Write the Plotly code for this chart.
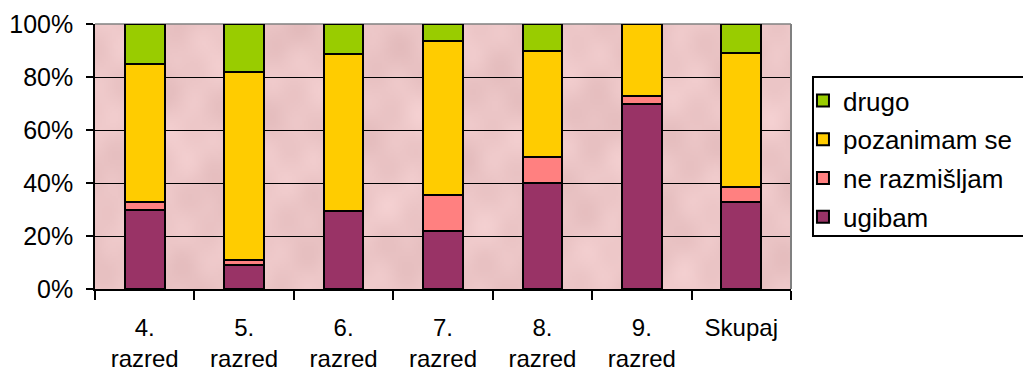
import base64
import struct
import zlib

import numpy as np
import plotly.graph_objects as go

categories = ["4.<br>razred", "5.<br>razred", "6.<br>razred", "7.<br>razred",
              "8.<br>razred", "9.<br>razred", "Skupaj"]

ugibam = [30, 9, 29.5, 22, 40, 70, 33]
ne_razmisljam = [3, 2, 0, 13.5, 10, 3, 5.5]
pozanimam_se = [52, 71, 59, 58, 40, 27, 50.5]
drugo = [15, 18, 11.5, 6.5, 10, 0, 11]

# (name, values, colour, legend rank)
series = [
    ("ugibam", ugibam, "#993366", 4),
    ("ne razmišljam", ne_razmisljam, "#FF8080", 3),
    ("pozanimam se", pozanimam_se, "#FFCC00", 2),
    ("drugo", drugo, "#99CC00", 1),
]

font_family = "Liberation Sans, Arial, sans-serif"


def marble_png(w=348, h=133):
    """Soft pink marble fill built from overlapping sine waves."""
    yy, xx = np.mgrid[0:h, 0:w].astype(float)
    v = (np.sin(xx * 0.11 + yy * 0.05) + np.sin(xx * 0.037 - yy * 0.13 + 1.3)
         + 0.7 * np.sin((xx + yy) * 0.21 + 2.1) + 0.6 * np.sin(xx * 0.29 - yy * 0.17)
         + 0.5 * np.sin(np.hypot(xx - 120, yy - 60) * 0.18))
    v = v / np.abs(v).max()
    base = np.array([236, 198, 199], float)
    shade = np.array([9, 11, 11], float)
    img = np.clip(base[None, None, :] + v[..., None] * shade, 0, 255).astype(np.uint8)
    raw = b"".join(b"\x00" + img[r].tobytes() for r in range(h))

    def chunk(tag, data):
        c = tag + data
        return struct.pack(">I", len(data)) + c + struct.pack(">I", zlib.crc32(c) & 0xFFFFFFFF)

    png = (b"\x89PNG\r\n\x1a\n"
           + chunk(b"IHDR", struct.pack(">IIBBBBB", w, h, 8, 2, 0, 0, 0))
           + chunk(b"IDAT", zlib.compress(raw, 9))
           + chunk(b"IEND", b""))
    return "data:image/png;base64," + base64.b64encode(png).decode()


fig = go.Figure()
for name, vals, color, rank in series:
    fig.add_trace(go.Bar(
        x=categories, y=vals, name=name, legendgroup=name, legendrank=rank,
        marker=dict(color=color, line=dict(color="black", width=2)),
    ))

fig.update_layout(
    barmode="stack",
    bargap=0.6,
    width=1023, height=371,
    margin=dict(l=95, r=232, t=24, b=82, autoexpand=False),
    paper_bgcolor="white",
    plot_bgcolor="#ECC5C6",
    font=dict(family=font_family, size=25, color="black"),
    showlegend=True,
    legend=dict(
        x=1.0172, y=0.80, xanchor="left", yanchor="top",
        traceorder="grouped", tracegroupgap=2,
        bgcolor="rgba(0,0,0,0)", borderwidth=0,
        font=dict(size=26),
        itemwidth=30,
    ),
    images=[dict(
        source=marble_png(), xref="paper", yref="paper",
        x=0, y=1, sizex=1, sizey=1, xanchor="left", yanchor="top",
        sizing="stretch", layer="below",
    )],
)

fig.update_xaxes(
    showline=True, linecolor="black", linewidth=1.5,
    ticks="outside", ticklen=9, tickwidth=1.5, tickcolor="black",
    tickson="boundaries", showgrid=False,
    tickfont=dict(size=24),
    ticklabelstandoff=16,
)
fig.update_yaxes(
    range=[0, 100], tickvals=[0, 20, 40, 60, 80, 100],
    ticktext=["0%", "20%", "40%", "60%", "80%", "100%"],
    showline=True, linecolor="black", linewidth=1.5,
    ticks="outside", ticklen=7, tickwidth=1.5, tickcolor="black",
    showgrid=True, gridcolor="black", gridwidth=1.2,
    zeroline=False, ticklabelstandoff=8,
)

# grey frame on the top and right of the plotting area
fig.add_shape(type="line", xref="paper", yref="paper", x0=0, x1=1, y0=1, y1=1,
              line=dict(color="#808080", width=1.5), layer="below")
fig.add_shape(type="line", xref="paper", yref="paper", x0=1, x1=1, y0=0, y1=1,
              line=dict(color="#808080", width=2), layer="above")

# legend frame, running off the right edge of the page
fig.add_shape(type="rect", xref="paper", yref="paper",
              x0=1.0316, x1=1.40, y0=0.20, y1=0.80,
              line=dict(color="black", width=2), fillcolor="white", layer="above")

fig.write_html("out.html")
